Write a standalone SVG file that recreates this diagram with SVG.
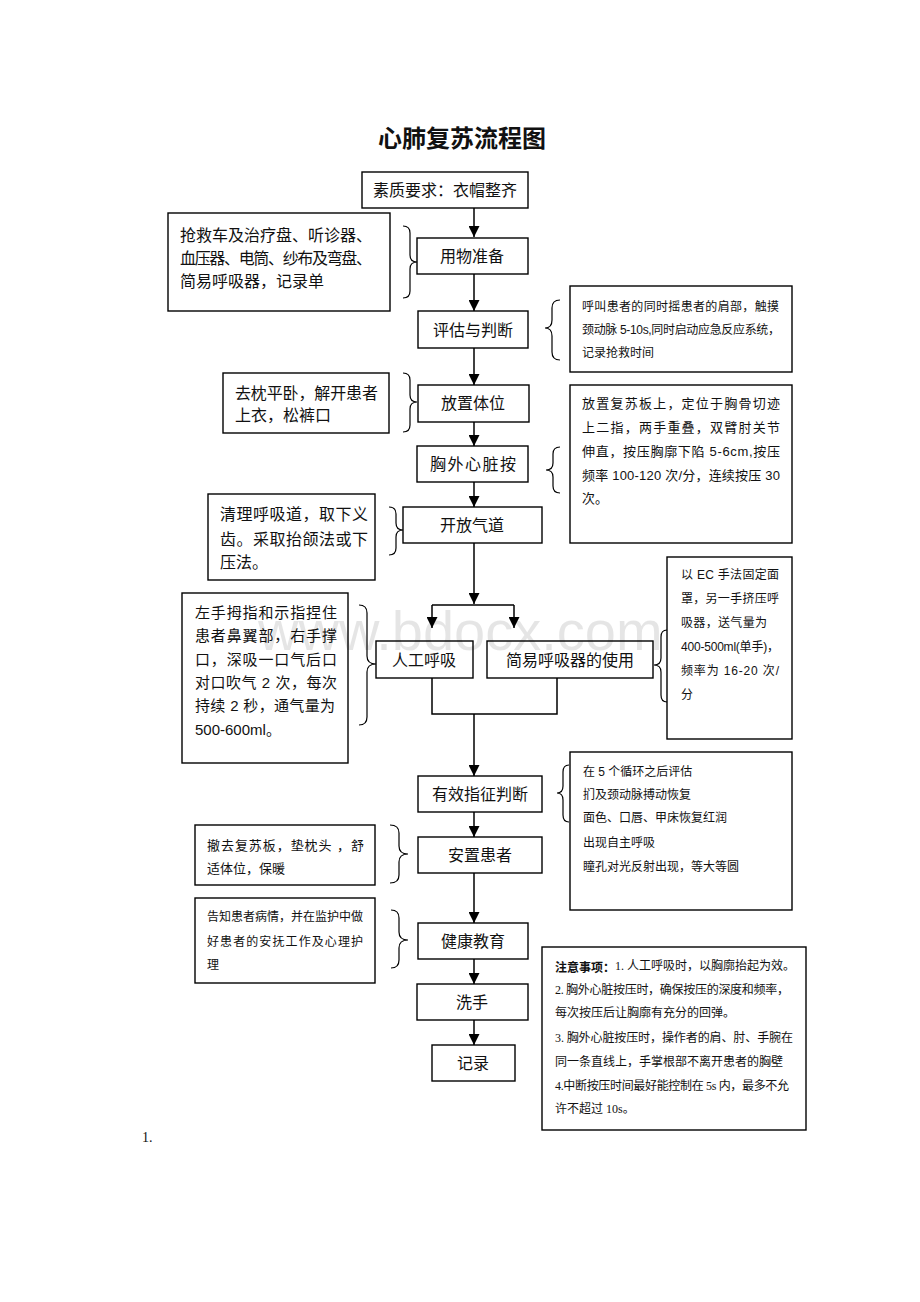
<svg xmlns="http://www.w3.org/2000/svg" width="920" height="1302" viewBox="0 0 920 1302">
<style>
.bx{fill:none;stroke:#000;stroke-width:1.4}
.br{fill:none;stroke:#000;stroke-width:1.2}
.cn{fill:none;stroke:#000;stroke-width:1.5}
text{font-family:"Liberation Sans","Noto Sans CJK SC",sans-serif;fill:#111;dominant-baseline:central}
.lb{font-size:16px;text-anchor:middle}
.t16{font-size:16px}
.t15{font-size:15px}
.t13{font-size:13px}
.t12{font-size:12px}
.nt{font-family:"Liberation Serif","Noto Sans CJK SC",serif;font-size:12px}
</style>
<defs>
<marker id="ah" markerUnits="userSpaceOnUse" markerWidth="11" markerHeight="11" viewBox="0 0 10 10" refX="10" refY="5" orient="auto">
<path d="M0,0 L10,5 L0,10 z" fill="#000"/>
</marker>
</defs>
<rect width="920" height="1302" fill="#fff"/>
<g id="title"><text x="462" y="136" style="font-size:24px;font-weight:bold;text-anchor:middle;font-family:'Noto Sans CJK SC',sans-serif">心肺复苏流程图</text></g>

<g id="n-suzhi"><rect class="bx" x="362" y="172" width="166" height="36"/><text class="lb" x="445" y="190">素质要求：衣帽整齐</text></g>
<g id="n-yongwu"><rect class="bx" x="417" y="238" width="111" height="36"/><text class="lb" x="472" y="256">用物准备</text></g>
<g id="n-yongwu-note"><rect class="bx" x="168" y="213" width="222" height="98"/>
<text class="t16" x="180" y="235" textLength="192">抢救车及治疗盘、听诊器、</text>
<text class="t16" x="180" y="258" textLength="192">血压器、电筒、纱布及弯盘、</text>
<text class="t16" x="180" y="281">简易呼吸器，记录单</text>
<path class="br" d="M403,226 Q410,226 410,233 L410,255 Q410,262 417,262 Q410,262 410,269 L410,291 Q410,298 403,298"/></g>

<g id="n-pinggu"><rect class="bx" x="418" y="311" width="110" height="37"/><text class="lb" x="473" y="330">评估与判断</text></g>
<g id="n-pinggu-note"><rect class="bx" x="570" y="286" width="222" height="86"/>
<text class="t12" x="582" y="307" textLength="197">呼叫患者的同时摇患者的肩部，触摸</text>
<text class="t12" x="582" y="330" textLength="198">颈动脉 5-10s,同时启动应急反应系统，</text>
<text class="t12" x="582" y="353">记录抢救时间</text>
<path class="br" d="M560,300 Q552,300 552,308 L552,320 Q552,328 545,328 Q552,328 552,336 L552,352 Q552,360 560,360"/></g>

<g id="n-fangzhi"><rect class="bx" x="418" y="385" width="111" height="37"/><text class="lb" x="473" y="403">放置体位</text></g>
<g id="n-fangzhi-note"><rect class="bx" x="223" y="373" width="166" height="60"/>
<text class="t16" x="235" y="393" textLength="143">去枕平卧，解开患者</text>
<text class="t16" x="235" y="415">上衣，松裤口</text>
<path class="br" d="M403,373 Q410,373 410,380 L410,395 Q410,402 417,402 Q410,402 410,409 L410,425 Q410,432 403,432"/></g>

<g id="n-xiongwai"><rect class="bx" x="417" y="446" width="111" height="36"/><text class="lb" x="473" y="464" textLength="86" lengthAdjust="spacing">胸外心脏按</text></g>
<g id="n-xiongwai-note"><rect class="bx" x="570" y="385" width="222" height="158"/>
<text class="t13" x="582" y="403" textLength="198">放置复苏板上，定位于胸骨切迹</text>
<text class="t13" x="582" y="427" textLength="198">上二指，两手重叠，双臂肘关节</text>
<text class="t13" x="582" y="451" textLength="198">伸直，按压胸廓下陷 5-6cm,按压</text>
<text class="t13" x="582" y="475" textLength="198">频率 100-120 次/分，连续按压 30</text>
<text class="t13" x="582" y="498">次。</text>
<path class="br" d="M560,447 Q553,447 553,454 L553,463 Q553,470 546,470 Q553,470 553,477 L553,486 Q553,493 560,493"/></g>

<g id="n-kaifang"><rect class="bx" x="403" y="507" width="139" height="36"/><text class="lb" x="472" y="525">开放气道</text></g>
<g id="n-kaifang-note"><rect class="bx" x="208" y="494" width="167" height="86"/>
<text class="t16" x="220" y="514" textLength="148">清理呼吸道，取下义</text>
<text class="t16" x="220" y="539" textLength="148">齿。采取抬颌法或下</text>
<text class="t16" x="220" y="562">压法。</text>
<path class="br" d="M389,507 Q396,507 396,514 L396,523 Q396,530 403,530 Q396,530 396,537 L396,548 Q396,555 389,555"/></g>

<g id="n-rengong"><rect class="bx" x="376" y="641" width="97" height="37"/><text class="lb" x="424" y="660">人工呼吸</text></g>
<g id="n-rengong-note"><rect class="bx" x="182" y="593" width="166" height="170"/>
<text class="t15" x="195" y="612" textLength="142">左手拇指和示指捏住</text>
<text class="t15" x="195" y="635" textLength="142">患者鼻翼部，右手撑</text>
<text class="t15" x="195" y="659" textLength="142">口，深吸一口气后口</text>
<text class="t15" x="195" y="682" textLength="142">对口吹气 2 次，每次</text>
<text class="t15" x="195" y="705" textLength="140">持续 2 秒，通气量为</text>
<text class="t15" x="195" y="729">500-600ml。</text>
<path class="br" d="M359,605 Q367,605 367,613 L367,656 Q367,664 376,664 Q367,664 367,672 L367,717 Q367,725 359,725"/></g>

<g id="n-jianyi"><rect class="bx" x="487" y="641" width="166" height="37"/><text class="lb" x="570" y="660">简易呼吸器的使用</text></g>
<g id="n-jianyi-note"><rect class="bx" x="667" y="557" width="125" height="182"/>
<text class="t12" x="681" y="575" textLength="98">以 EC 手法固定面</text>
<text class="t12" x="681" y="599" textLength="98">罩，另一手挤压呼</text>
<text class="t12" x="681" y="623" textLength="86">吸器，送气量为</text>
<text class="t12" x="681" y="647" textLength="98">400-500ml(单手)，</text>
<text class="t12" x="681" y="671" textLength="98">频率为 16-20 次/</text>
<text class="t12" x="681" y="695">分</text>
<path class="br" d="M667,630 Q661,630 661,637 L661,658 Q661,665 654,665 Q661,665 661,672 L661,695 Q661,702 667,702"/></g>

<g id="n-youxiao"><rect class="bx" x="418" y="776" width="124" height="36"/><text class="lb" x="480" y="794">有效指征判断</text></g>
<g id="n-youxiao-note"><rect class="bx" x="570" y="752" width="222" height="158"/>
<text class="t12" x="583" y="772">在 5 个循环之后评估</text>
<text class="t12" x="583" y="795">扪及颈动脉搏动恢复</text>
<text class="t12" x="583" y="818">面色、口唇、甲床恢复红润</text>
<text class="t12" x="583" y="843">出现自主呼吸</text>
<text class="t12" x="583" y="867">瞳孔对光反射出现，等大等圆</text>
<path class="br" d="M569,765 Q563,765 563,772 L563,786 Q563,793 557,793 Q563,793 563,800 L563,815 Q563,822 569,822"/></g>

<g id="n-anzhi"><rect class="bx" x="418" y="837" width="124" height="36"/><text class="lb" x="480" y="855">安置患者</text></g>
<g id="n-anzhi-note"><rect class="bx" x="195" y="825" width="180" height="60"/>
<text class="t13" x="207" y="845" textLength="157">撤去复苏板，垫枕头 ，舒</text>
<text class="t13" x="207" y="868">适体位，保暖</text>
<path class="br" d="M390,825 Q399,825 399,833 L399,846 Q399,854 408,854 Q399,854 399,862 L399,875 Q399,883 390,883"/></g>

<g id="n-jiankang"><rect class="bx" x="418" y="923" width="110" height="36"/><text class="lb" x="473" y="941">健康教育</text></g>
<g id="n-jiankang-note"><rect class="bx" x="195" y="898" width="180" height="85"/>
<text class="t12" x="207" y="917" textLength="156">告知患者病情，并在监护中做</text>
<text class="t12" x="207" y="942" textLength="156">好患者的安抚工作及心理护</text>
<text class="t12" x="207" y="965">理</text>
<path class="br" d="M391,910 Q399,910 399,918 L399,932 Q399,940 408,940 Q399,940 399,948 L399,960 Q399,968 391,968"/></g>

<g id="n-xishou"><rect class="bx" x="417" y="984" width="111" height="36"/><text class="lb" x="472" y="1002">洗手</text></g>
<g id="n-jilu"><rect class="bx" x="432" y="1045" width="83" height="36"/><text class="lb" x="473" y="1063">记录</text></g>

<g id="n-notes"><rect class="bx" x="542" y="947" width="264" height="183"/>
<text class="nt" x="555" y="966"><tspan style="font-weight:bold;font-family:'Noto Sans CJK SC',sans-serif">注意事项：</tspan>1. 人工呼吸时，以胸廓抬起为效。</text>
<text class="nt" x="555" y="990" textLength="234">2. 胸外心脏按压时，确保按压的深度和频率，</text>
<text class="nt" x="555" y="1013">每次按压后让胸廓有充分的回弹。</text>
<text class="nt" x="555" y="1038" textLength="238">3. 胸外心脏按压时，操作者的肩、肘、手腕在</text>
<text class="nt" x="555" y="1062">同一条直线上，手掌根部不离开患者的胸壁</text>
<text class="nt" x="555" y="1086" textLength="234">4.中断按压时间最好能控制在 5s 内，最多不允</text>
<text class="nt" x="555" y="1109">许不超过 10s。</text></g>

<g id="connectors">
<path class="cn" d="M474,208 V237" marker-end="url(#ah)"/>
<path class="cn" d="M474,274 V311" marker-end="url(#ah)"/>
<path class="cn" d="M474,348 V385" marker-end="url(#ah)"/>
<path class="cn" d="M474,422 V446" marker-end="url(#ah)"/>
<path class="cn" d="M474,482 V507" marker-end="url(#ah)"/>
<path class="cn" d="M474,543 V604" marker-end="url(#ah)"/>
<path class="cn" d="M432,605 H514"/>
<path class="cn" d="M432,605 V628" marker-end="url(#ah)"/>
<path class="cn" d="M514,605 V628" marker-end="url(#ah)"/>
<path class="cn" d="M432,678 V714 H557 V678"/>
<path class="cn" d="M474,714 V776" marker-end="url(#ah)"/>
<path class="cn" d="M474,812 V837" marker-end="url(#ah)"/>
<path class="cn" d="M474,873 V923" marker-end="url(#ah)"/>
<path class="cn" d="M474,959 V984" marker-end="url(#ah)"/>
<path class="cn" d="M474,1020 V1045" marker-end="url(#ah)"/>
</g>

<text x="142" y="1137" style="font-family:'Liberation Serif',serif;font-size:14px">1.</text>
<text x="258" y="650" style="font-family:'Liberation Sans',sans-serif;font-size:56px;fill:#000;fill-opacity:0.1;dominant-baseline:alphabetic">www.bdocx.com</text>
</svg>
